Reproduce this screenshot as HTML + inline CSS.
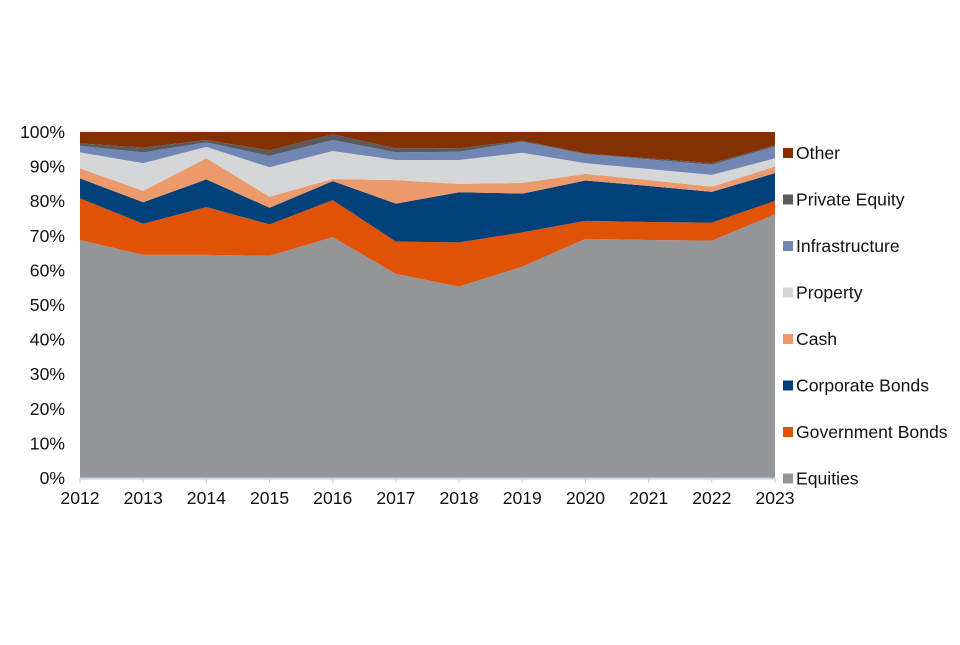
<!DOCTYPE html>
<html><head><meta charset="utf-8"><style>
body{margin:0;background:#fff;}
svg text{font-family:"Liberation Sans",Arial,sans-serif;font-size:17.6px;fill:#111;}
</style></head><body>
<svg width="960" height="640" id="chart"></svg>
<script>
const years=["2012","2013","2014","2015","2016","2017","2018","2019","2020","2021","2022","2023"];
const seriesNames=["Equities","Government Bonds","Corporate Bonds","Cash","Property","Infrastructure","Private Equity","Other"];
const equities=[68.8,64.5,64.5,64.2,69.6,59.0,55.3,61.1,69.1,68.8,68.6,76.2];
const governmentBonds=[12.0,9.0,13.8,9.1,10.7,9.3,12.8,9.9,5.2,5.2,5.2,3.9];
const corporateBonds=[5.8,6.2,8.0,4.8,5.5,11.0,14.5,11.2,11.7,10.4,8.9,8.0];
const cash=[2.9,3.3,6.1,3.2,0.6,6.8,2.4,3.1,1.9,1.7,1.5,1.9];
const property=[4.6,8.0,3.3,8.5,8.1,5.8,6.9,8.7,3.1,3.2,3.4,2.4];
const infrastructure=[1.9,3.1,1.3,3.3,3.2,2.2,2.4,3.2,2.6,2.8,2.9,3.4];
const privateEquity=[0.7,1.4,0.7,1.6,1.6,1.2,1.0,0.3,0.2,0.3,0.5,0.4];
const other=[3.3,4.5,2.3,5.3,0.7,4.7,4.7,2.5,6.2,7.6,9.0,3.8];
const yTicks=[0,10,20,30,40,50,60,70,80,90,100];
const colors=["#939598","#e05206","#00417a","#ec9a6c","#d5d6d8","#7286b3","#5a5b5e","#843000"];
const allSeries=[equities,governmentBonds,corporateBonds,cash,property,infrastructure,privateEquity,other];
const NS="http://www.w3.org/2000/svg";
const svg=document.getElementById('chart');
const X0=80,X1=775,Y0=478,Y1=132;
const xs=i=>X0+(X1-X0)*i/(years.length-1);
const ys=v=>Y0-(Y0-Y1)*v/100;
function mk(t,a){const e=document.createElementNS(NS,t);for(const k in a)e.setAttribute(k,a[k]);svg.appendChild(e);return e;}
let base=years.map(()=>0);
allSeries.forEach((s,si)=>{
  const top=base.map((b,i)=>b+s[i]);
  let d="";
  top.forEach((v,i)=>{d+=(i?"L":"M")+xs(i)+","+ys(Math.min(v,100));});
  for(let i=years.length-1;i>=0;i--)d+="L"+xs(i)+","+ys(base[i]);
  const p=mk('path',{d:d+"Z",fill:colors[si]});
  
  
  base=top;
});
const ax=mk('line',{x1:X0,x2:X1,y1:Y0+0.5,y2:Y0+0.5,stroke:"#bcd3ea","stroke-width":2});


years.forEach((y,i)=>{
  const tk=mk('line',{x1:xs(i),x2:xs(i),y1:Y0,y2:Y0+5,stroke:"#bcd3ea","stroke-width":1});
  
  
  const t=mk('text',{x:xs(i),y:504,"text-anchor":"middle"});t.textContent=y;
  
  
});
yTicks.forEach(v=>{
  const t=mk('text',{x:65,y:ys(v)+6,"text-anchor":"end"});t.textContent=v+"%";
  
  
});
for(let k=0;k<seriesNames.length;k++){
  const si=seriesNames.length-1-k;
  const cy=153+k*46.5;
  const r=mk('rect',{x:783,y:cy-5,width:10,height:10,fill:colors[si]});
  
  
  const t=mk('text',{x:796,y:cy+6});t.textContent=seriesNames[si];
  
  
}
</script>
</body></html>
